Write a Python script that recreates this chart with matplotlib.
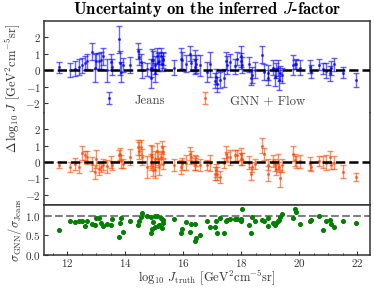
import numpy as np
import matplotlib
matplotlib.use('Agg')
import matplotlib.pyplot as plt
from matplotlib.ticker import AutoMinorLocator

plt.rcParams['font.family'] = 'cmr10'
plt.rcParams['mathtext.fontset'] = 'cm'
plt.rcParams['axes.formatter.use_mathtext'] = True

# true log10 J of each galaxy
j_truth = [11.70, 12.10, 12.25, 12.39, 12.51, 12.62, 12.68, 12.85, 12.94, 13.00,
           13.08, 13.16, 13.22, 13.37, 13.49, 13.54, 13.77, 13.83, 13.85, 13.91,
           14.15, 14.43, 14.47, 14.55, 14.58, 14.73, 14.87, 14.89, 14.93, 14.96,
           15.01, 15.02, 15.10, 15.12, 15.17, 15.24, 15.27, 15.30, 15.31, 15.68,
           15.93, 15.95, 16.10, 16.22, 16.28, 16.39, 16.40, 16.45, 16.58, 16.81,
           16.92, 17.10, 17.13, 17.16, 17.27, 17.42, 17.47, 17.52, 17.62, 17.79,
           17.87, 17.99, 18.00, 18.04, 18.28, 18.33, 18.37, 18.46, 18.73, 18.80,
           18.91, 18.92, 19.11, 19.17, 19.21, 19.27, 19.31, 19.35, 19.41, 19.79,
           19.87, 19.90, 20.04, 20.38, 20.42, 20.67, 20.84, 20.94, 21.08, 21.10,
           21.21, 21.52, 21.97]

# Jeans residuals and errors
jeans_res = [0.18, 0.00, 0.10, 0.20, 0.30, 0.45, 0.55, 1.14, 0.16, 0.55,
             0.55, 0.60, 0.84, 0.00, 0.49, 0.20, 1.88, 0.45, -0.10, 0.30,
             0.30, 1.18, 0.80, 0.50, 0.00, 0.05, -0.50, 0.16, 0.65, 0.60,
             -0.14, 0.30, 0.85, 0.50, 0.55, 0.85, 0.40, 0.71, 0.60, 0.16,
             0.70, 0.60, 0.40, 1.00, 0.45, 0.60, 0.20, 0.35, 0.30, -0.10,
             0.37, -0.65, -0.40, -0.86, -0.60, -0.45, 0.57, 0.30, 0.50, 0.25,
             0.70, 0.55, 0.84, 0.30, 0.37, -0.45, -0.30, 0.00, 0.94, -0.10,
             -0.45, -0.15, 0.15, -0.40, 0.00, 0.15, -0.60, -0.20, -0.30, 0.30,
             0.35, 0.40, 0.15, 0.20, -0.10, 0.33, 0.10, -0.04, -0.20, 0.15,
             0.35, -0.14, -0.60]
jeans_err = [0.32, 0.42, 0.48, 0.48, 0.46, 0.44, 0.46, 0.52, 0.85, 0.48,
             0.50, 0.50, 0.52, 0.70, 0.48, 0.48, 0.82, 0.75, 0.60, 0.42,
             0.50, 0.48, 0.50, 0.50, 0.50, 0.42, 0.60, 0.55, 0.65, 0.55,
             0.57, 0.55, 0.50, 0.55, 0.55, 0.50, 0.45, 0.40, 0.45, 0.46,
             0.65, 0.50, 0.50, 0.46, 0.50, 0.65, 0.46, 0.55, 0.65, 0.60,
             0.77, 0.46, 0.46, 0.46, 0.50, 0.55, 0.55, 0.55, 0.50, 0.46,
             0.40, 0.50, 0.62, 0.50, 0.46, 0.46, 0.50, 0.50, 0.53, 0.50,
             0.46, 0.46, 0.46, 0.56, 0.46, 0.50, 0.60, 0.46, 0.46, 0.60,
             0.30, 0.30, 0.45, 0.40, 0.40, 0.33, 0.36, 0.46, 0.46, 0.42,
             0.38, 0.36, 0.40]

# GNN + Flow residuals and errors
gnn_res = [-0.18, -0.29, -0.12, -0.33, 0.57, 0.40, 0.30, -0.10, -0.60, 0.20,
           -0.40, -0.30, -0.15, -0.25, 0.00, -0.20, 0.40, 0.50, 0.05, -0.10,
           0.30, 0.90, 0.70, 0.90, 0.30, -0.30, 0.00, 0.40, 0.30, -0.50,
           -0.50, 0.20, 0.70, 0.20, -0.30, 0.30, 0.90, -0.10, 0.60, -0.20,
           -0.30, -0.10, -0.05, 0.50, 0.30, -0.10, -0.05, 0.05, -0.20, -0.20,
           -0.05, -0.70, -0.50, -0.70, -0.90, -0.05, 0.50, 0.30, 0.30, 0.40,
           0.40, 0.50, 0.20, 0.20, -0.05, -0.70, -0.30, -0.10, 1.00, 0.50,
           -0.15, -0.70, 0.05, -0.20, -0.45, 0.05, -0.30, -1.00, -0.20, 0.50,
           0.15, 0.00, 0.05, -0.10, -0.30, 0.05, 0.00, -0.05, 0.30, -0.20,
           -0.05, -0.60, -0.90]
gnn_err = [0.20, 0.30, 0.35, 0.36, 0.42, 0.30, 0.40, 0.42, 0.42, 0.55,
           0.36, 0.32, 0.36, 0.40, 0.35, 0.28, 0.36, 0.36, 0.40, 0.26,
           0.50, 0.46, 0.50, 0.46, 0.50, 0.65, 0.50, 0.65, 0.65, 0.36,
           0.50, 0.50, 0.46, 0.40, 0.46, 0.40, 0.40, 0.30, 0.36, 0.36,
           0.40, 0.36, 0.46, 0.40, 0.40, 0.36, 0.45, 0.30, 0.36, 0.30,
           0.50, 0.40, 0.40, 0.40, 0.36, 0.30, 0.46, 0.30, 0.46, 0.36,
           0.36, 0.36, 0.36, 0.36, 0.40, 0.40, 0.30, 0.30, 0.46, 0.36,
           0.36, 0.46, 0.36, 0.36, 0.36, 0.46, 0.30, 0.50, 0.40, 0.46,
           0.36, 0.36, 0.40, 0.40, 0.26, 0.30, 0.36, 0.46, 0.36, 0.20,
           0.40, 0.40, 0.26]

# sigma_GNN / sigma_Jeans
ratio = [0.63, 0.86, 0.83, 0.87, 0.86, 0.74, 0.87, 0.79, 0.76, 0.93,
         0.93, 0.80, 0.74, 0.79, 0.76, 0.91, 0.46, 0.80, 0.95, 0.59,
         0.87, 0.76, 0.85, 0.96, 1.06, 0.99, 0.97, 0.56, 0.65, 0.83,
         0.99, 0.72, 0.99, 0.74, 0.76, 0.93, 0.69, 0.82, 0.89, 0.91,
         0.56, 0.67, 0.83, 0.57, 0.78, 0.79, 0.36, 0.42, 0.51, 0.87,
         0.72, 0.70, 0.85, 0.56, 0.93, 0.56, 0.85, 0.89, 0.92, 0.91,
         0.91, 0.85, 0.91, 1.17, 0.76, 0.55, 0.97, 0.87, 0.89, 0.87,
         0.74, 0.93, 0.82, 0.76, 0.80, 0.85, 0.89, 0.96, 1.04, 0.93,
         1.17, 1.10, 0.78, 0.85, 0.89, 0.99, 0.63, 0.85, 0.89, 0.78,
         0.72, 0.87, 0.80]

fig = plt.figure(figsize=(3.74, 2.89), dpi=100)
ax1 = fig.add_axes([0.1185, 0.6095, 0.871, 0.3178])
ax2 = fig.add_axes([0.1185, 0.2917, 0.871, 0.3178], sharex=ax1)
ax3 = fig.add_axes([0.1185, 0.1187, 0.871, 0.1730], sharex=ax1)

eb_kw = dict(fmt='.', markersize=2.5, capsize=2.2, elinewidth=1.0, capthick=1.0, alpha=0.6)
h1 = ax1.errorbar(j_truth, jeans_res, yerr=jeans_err, color='blue', label='Jeans', **eb_kw)
h2 = ax2.errorbar(j_truth, gnn_res, yerr=gnn_err, color='orangered', label='GNN + Flow', **eb_kw)
for ax in (ax1, ax2):
    ax.axhline(0, color='k', ls='--', lw=1.8, zorder=5)
    ax.set_ylim(-2.6, 3.0)
    ax.set_yticks([-2, -1, 0, 1, 2])
    ax.tick_params(axis='x', which='both', bottom=False, top=False, labelbottom=False)

ax3.scatter(j_truth, ratio, s=7, color='green', zorder=3)
ax3.axhline(1.0, color='gray', ls='--', lw=1.5)
ax3.set_ylim(0, 1.28)
ax3.set_yticks([0.0, 0.5, 1.0])
ax3.set_xlim(11.2, 22.45)
ax3.set_xticks([12, 14, 16, 18, 20, 22])
ax3.xaxis.set_minor_locator(AutoMinorLocator())

ax1.spines['bottom'].set_visible(False)
ax2.spines['top'].set_visible(False)
for ax in (ax1, ax2, ax3):
    for s in ax.spines.values():
        s.set_linewidth(1.1)
        s.set_color('#333333')
    ax.tick_params(direction='in', labelsize=8, colors='#333333', length=3, pad=2.5)
    ax.tick_params(which='minor', direction='in', length=1.8)
ax3.tick_params(axis='x', pad=1.5)

ax1.legend(handles=[h1, h2], loc='center', bbox_to_anchor=(0.49, 0.14), ncol=2,
           frameon=False, fontsize=9.2, columnspacing=2.6, handletextpad=1.5,
           handlelength=1.0, handleheight=1.6, labelcolor='#444444')

ax1.set_title(r'Uncertainty on the inferred $J$-factor', fontfamily='cmb10',
              fontsize=12, pad=5)
fig.text(0.035, 0.695, r'$\Delta\,\log_{10}\,J$ [GeV$^2$cm$^{-5}$sr]', rotation=90,
         ha='center', va='center', fontsize=9, color='#333333')
fig.text(0.04, 0.205, r'$\sigma_{\rm GNN}/\sigma_{\rm Jeans}$', rotation=90,
         ha='center', va='center', fontsize=9, color='#333333')
fig.text(0.554, 0.036, r'$\log_{10}\,J_{\rm truth}$ [GeV$^2$cm$^{-5}$sr]', fontsize=9,
         ha='center', va='center', color='#333333')

fig.savefig('out.png', dpi=100)
